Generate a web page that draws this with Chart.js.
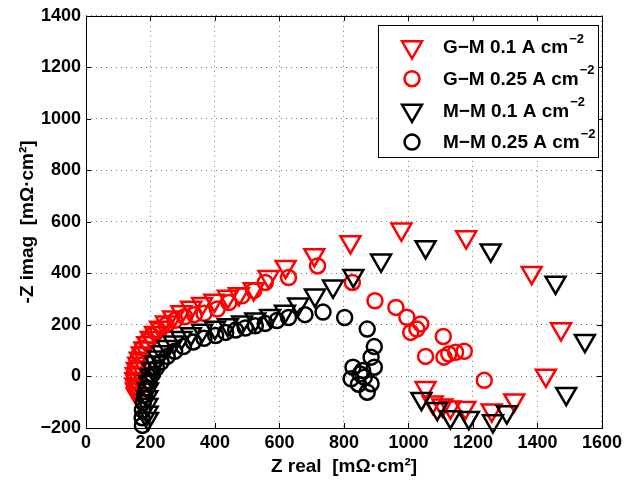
<!DOCTYPE html>
<html>
<head>
<meta charset="utf-8">
<script src="https://cdn.jsdelivr.net/npm/chart.js@4/dist/chart.umd.min.js"></script>
<style>
  html, body { margin: 0; padding: 0; background: #ffffff; }
  #wrap { width: 626px; height: 484px; }
</style>
</head>
<body>
<div id="wrap"><canvas id="c" width="626" height="484"></canvas></div>
<script>
// ---- data ----
const seriesNames = ['G\u2212M 0.1 A cm', 'G\u2212M 0.25 A cm', 'M\u2212M 0.1 A cm', 'M\u2212M 0.25 A cm'];
const xTicks = [0, 200, 400, 600, 800, 1000, 1200, 1400, 1600];
const yTicks = [-200, 0, 200, 400, 600, 800, 1000, 1200, 1400];

const gm01X = [158,155,153,153,155,158,162,167,173,181,190,201,214,230,248,270,296,326,360,398,440,474,520,566,619,708,820,978,1179,1382,1473,1426,1328,1258,1176,1130,1105,1075,1053];
const gm01Y = [-70,-50,-30,-10,10,30,50,70,90,110,130,150,170,190,210,230,250,268,282,295,310,320,340,387,426,472,522,571,541,403,184,4,-92,-131,-121,-119,-112,-100,-44];

const gm025X = [150,149,150,153,158,165,175,188,204,224,248,276,306,336,366,407,443,484,520,556,628,718,826,896,961,995,1026,1038,1007,1108,1053,1110,1125,1146,1173,1235];
const gm025Y = [-40,-15,10,35,60,85,110,135,158,180,200,218,232,240,245,262,287,313,333,365,384,429,365,294,268,230,184,204,171,155,78,75,87,94,98,-15];

const mm01X = [192,191,190,190,192,195,200,206,214,224,236,252,272,296,325,360,400,440,484,525,571,617,658,710,766,829,915,1053,1255,1456,1547,1489,1305,1262,1187,1130,1089,1040];
const mm01Y = [-164,-140,-110,-80,-50,-20,5,30,55,75,95,115,133,150,165,178,190,200,210,222,236,252,280,315,350,391,451,503,490,365,139,-67,-138,-173,-160,-157,-125,-86];

const mm025X = [175,174,175,178,182,188,196,206,218,233,252,275,302,333,366,402,433,464,494,525,556,592,628,679,735,802,872,894,884,828,858,894,822,863,884,872,850,845];
const mm025Y = [-190,-160,-130,-100,-72,-45,-18,8,33,56,78,98,116,134,148,159,171,180,188,197,206,217,229,240,250,229,184,116,75,36,23,36,-9,-3,-28,-61,10,-30];

// ---- helpers ----
function pts(xs, ys) { return xs.map((x, i) => ({ x: x, y: ys[i] })); }
const FONT = '"Liberation Sans", Arial, Helvetica, sans-serif';
const RED = '#ff0000', BLACK = '#000000';
const colors = [RED, RED, BLACK, BLACK];
const styles = ['triangle', 'circle', 'triangle', 'circle'];
const TRI_R = 11.5, CIR_R = 7.5;

function drawMarker(ctx, style, x, y, color) {
  ctx.save();
  ctx.strokeStyle = color;
  ctx.lineWidth = 2.5;
  ctx.beginPath();
  if (style === 'triangle') {
    const r = TRI_R;
    ctx.moveTo(x, y + r);
    ctx.lineTo(x - r * 0.866, y - r / 2);
    ctx.lineTo(x + r * 0.866, y - r / 2);
    ctx.closePath();
  } else {
    ctx.arc(x, y, CIR_R, 0, Math.PI * 2);
  }
  ctx.stroke();
  ctx.restore();
}

const frameTicks = {
  id: 'frameTicks',
  afterDatasetsDraw(chart) {
    const { ctx, chartArea: a, scales } = chart;
    ctx.save();
    ctx.strokeStyle = '#000';
    ctx.lineWidth = 1;
    ctx.setLineDash([]);
    ctx.beginPath();
    const L = 5;
    xTicks.forEach(v => {
      const px = Math.round(scales.x.getPixelForValue(v)) + 0.5;
      ctx.moveTo(px, a.bottom); ctx.lineTo(px, a.bottom - L);
      ctx.moveTo(px, a.top); ctx.lineTo(px, a.top + L);
    });
    yTicks.forEach(v => {
      const py = Math.round(scales.y.getPixelForValue(v)) + 0.5;
      ctx.moveTo(a.left, py); ctx.lineTo(a.left + L, py);
      ctx.moveTo(a.right, py); ctx.lineTo(a.right - L, py);
    });
    ctx.stroke();
    ctx.strokeRect(Math.round(a.left) + 0.5, Math.round(a.top) + 0.5,
                   Math.round(a.right - a.left), Math.round(a.bottom - a.top));
    ctx.restore();
  }
};

const boxLegend = {
  id: 'boxLegend',
  afterDraw(chart) {
    const ctx = chart.ctx;
    ctx.save();
    ctx.fillStyle = '#ffffff';
    ctx.fillRect(378.5, 25.5, 220, 132);
    ctx.strokeStyle = '#000';
    ctx.lineWidth = 1;
    ctx.strokeRect(378.5, 25.5, 220, 132);
    for (let i = 0; i < 4; i++) {
      const y = 47 + i * 31.7;
      drawMarker(ctx, styles[i], 412, y, colors[i]);
      ctx.fillStyle = '#000';
      ctx.textBaseline = 'middle';
      ctx.textAlign = 'left';
      ctx.font = 'bold 19px ' + FONT;
      ctx.fillText(seriesNames[i], 443, y + 1);
      const w = ctx.measureText(seriesNames[i]).width;
      ctx.font = 'bold 13px ' + FONT;
      ctx.fillText('\u22122', 443 + w + 1, y - 8);
    }
    ctx.restore();
  }
};

const datasets = [
  { label: seriesNames[0], data: pts(gm01X, gm01Y), order: 3 },
  { label: seriesNames[1], data: pts(gm025X, gm025Y), order: 2 },
  { label: seriesNames[2], data: pts(mm01X, mm01Y), order: 1 },
  { label: seriesNames[3], data: pts(mm025X, mm025Y), order: 0 }
].map((d, i) => Object.assign(d, {
  showLine: false,
  pointStyle: styles[i],
  pointRotation: styles[i] === 'triangle' ? 180 : 0,
  pointRadius: styles[i] === 'triangle' ? TRI_R : CIR_R,
  pointHoverRadius: styles[i] === 'triangle' ? TRI_R : CIR_R,
  pointBorderWidth: 2.5,
  pointBorderColor: colors[i],
  pointBackgroundColor: 'rgba(0,0,0,0)',
  borderColor: colors[i],
  backgroundColor: 'rgba(0,0,0,0)',
  clip: false
}));

function fmt(v) { return v < 0 ? '\u2212' + Math.abs(v) : String(v); }

new Chart(document.getElementById('c'), {
  type: 'scatter',
  data: { datasets: datasets },
  options: {
    responsive: false,
    animation: false,
    devicePixelRatio: 1,
    layout: { padding: { left: 0, top: 14, right: 20, bottom: 0 } },
    plugins: { legend: { display: false }, tooltip: { enabled: false } },
    scales: {
      x: {
        type: 'linear', min: 0, max: 1600,
        afterBuildTicks: s => { s.ticks = xTicks.map(v => ({ value: v })); },
        afterFit: s => { s.height = 56; },
        ticks: { color: '#000', font: { family: FONT, size: 18, weight: 'bold' }, padding: 4, maxRotation: 0, callback: v => fmt(v) },
        grid: { color: '#777777', lineWidth: 1, drawTicks: false },
        border: { display: false, dash: [1, 4] },
        title: { display: true, text: 'Z real  [m\u03A9\u00B7cm\u00B2]', color: '#000', font: { family: FONT, size: 19, weight: 'bold' }, padding: { top: 0, bottom: 6 } }
      },
      y: {
        type: 'linear', min: -200, max: 1400,
        afterBuildTicks: s => { s.ticks = yTicks.map(v => ({ value: v })); },
        afterFit: s => { s.width = 86; },
        ticks: { color: '#000', font: { family: FONT, size: 18, weight: 'bold' }, padding: 5, callback: v => fmt(v) },
        grid: { color: '#777777', lineWidth: 1, drawTicks: false },
        border: { display: false, dash: [1, 4] },
        title: { display: true, text: '-Z imag  [m\u03A9\u00B7cm\u00B2]', color: '#000', font: { family: FONT, size: 19, weight: 'bold' }, padding: { top: 16, bottom: 0 } }
      }
    }
  },
  plugins: [frameTicks, boxLegend]
});
</script>
</body>
</html>
